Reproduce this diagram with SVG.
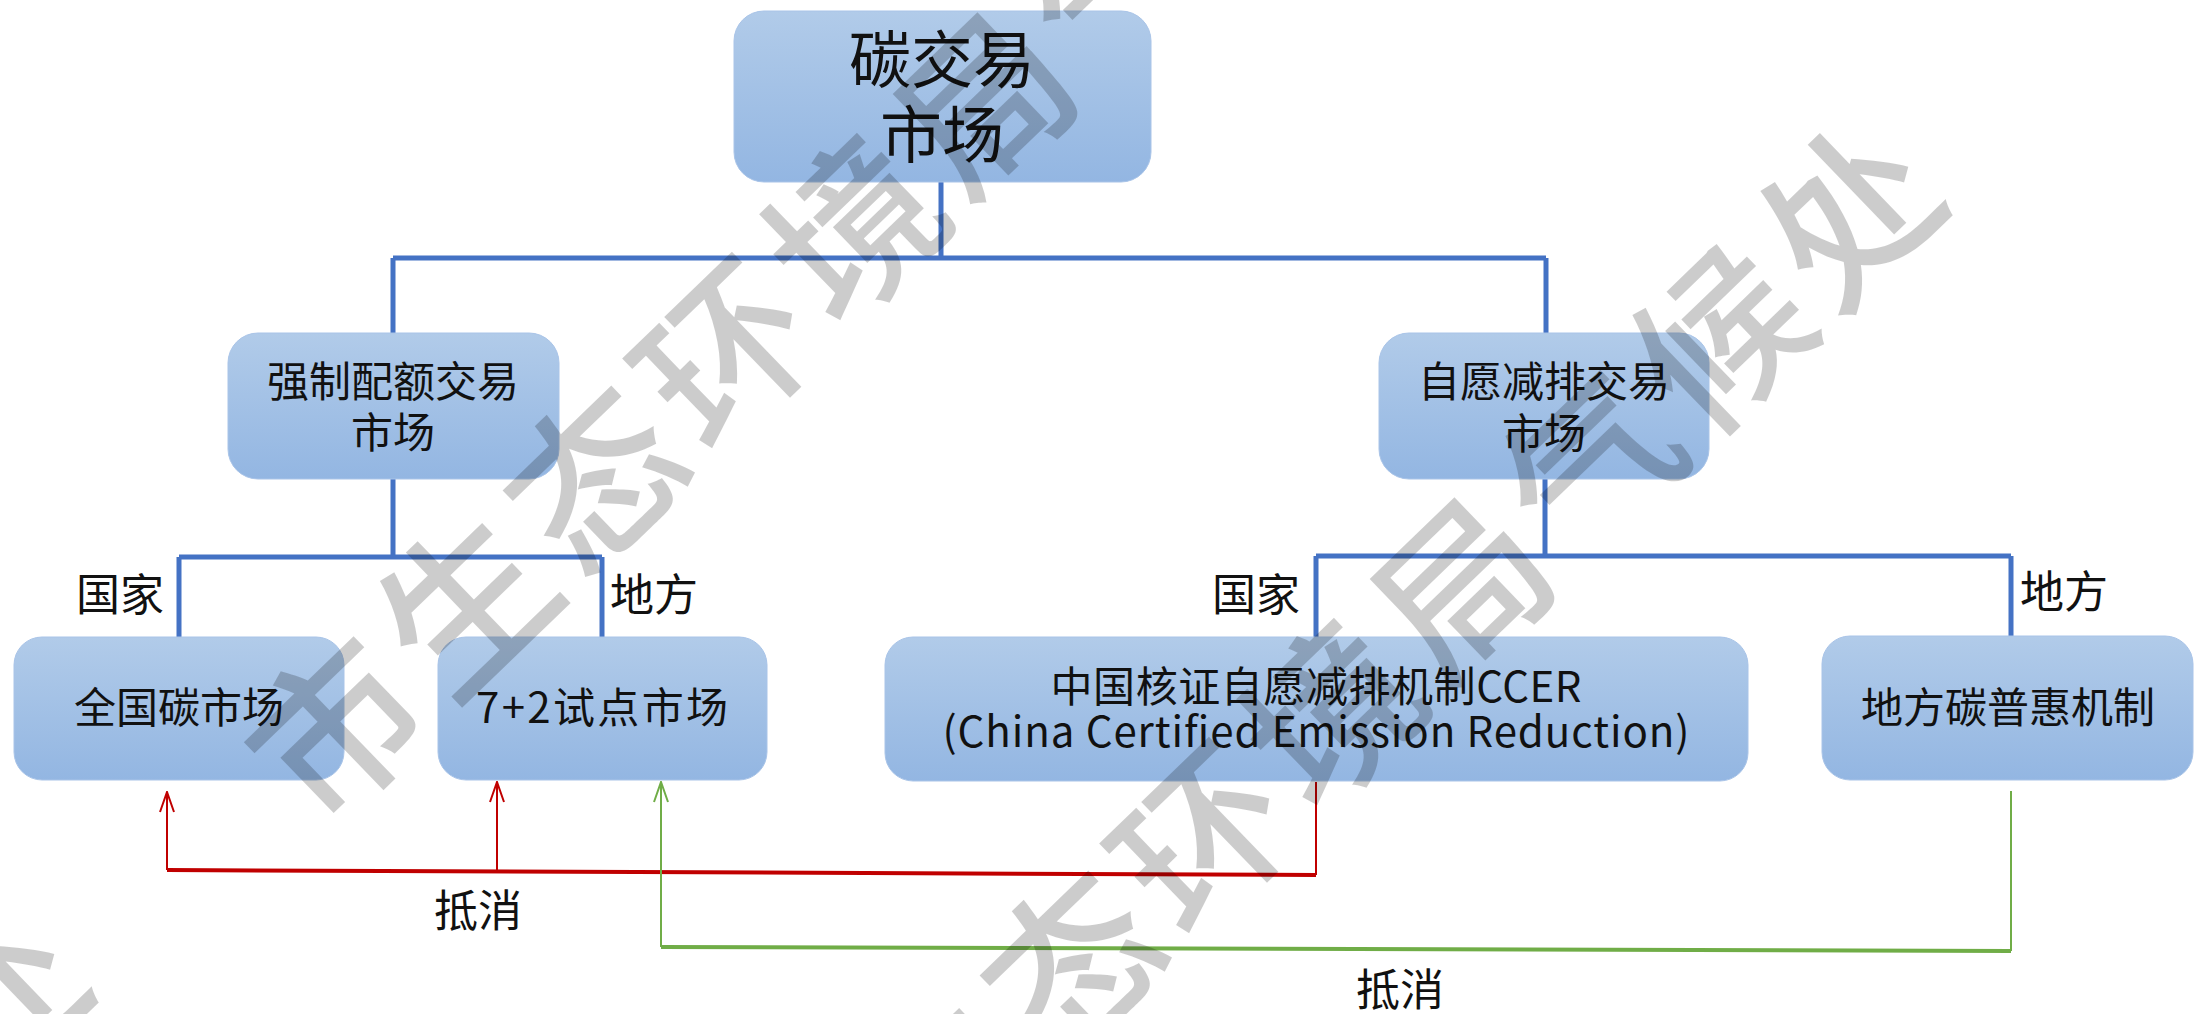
<svg xmlns="http://www.w3.org/2000/svg" width="2196" height="1014" viewBox="0 0 2196 1014">
<defs>
<linearGradient id="nodeGrad" x1="0" y1="0" x2="0" y2="1">
<stop offset="0" stop-color="#B1CBE9"/>
<stop offset="1" stop-color="#93B6E2"/>
</linearGradient>
<marker id="arrRed" markerUnits="userSpaceOnUse" markerWidth="22" markerHeight="22" viewBox="0 0 22 22" refX="21" refY="11" orient="auto">
<path d="M1,4 L21,11 L1,18" fill="none" stroke="#C00000" stroke-width="2"/>
</marker>
<marker id="arrGreen" markerUnits="userSpaceOnUse" markerWidth="22" markerHeight="22" viewBox="0 0 22 22" refX="21" refY="11" orient="auto">
<path d="M1,4 L21,11 L1,18" fill="none" stroke="#70AD47" stroke-width="2"/>
</marker>
</defs>
<style>
.node{fill:url(#nodeGrad);stroke:#A9C4E8;stroke-width:1}
.t{font-family:"Noto Sans CJK SC","Noto Sans",sans-serif;fill:#111;text-anchor:middle}
.lbl{font-family:"Noto Sans CJK SC","Noto Sans",sans-serif;fill:#111;font-size:44px}
.tree{fill:none;stroke:#4472C4;stroke-width:5}
.red{fill:none;stroke:#C00000;stroke-width:2}
.redh{fill:none;stroke:#C00000;stroke-width:4}
.green{fill:none;stroke:#70AD47;stroke-width:2}
.greenh{fill:none;stroke:#70AD47;stroke-width:4}
.wm{font-family:"Noto Sans CJK SC",sans-serif;font-size:168px;font-weight:500;letter-spacing:12px;fill:#000;fill-opacity:0.2}
</style>
<rect x="0" y="0" width="2196" height="1014" fill="#FFFFFF"/>
<g id="connectors">
<path class="tree" d="M941,182 V258 M393,258 H1546 M393,258 V333 M1546,258 V333"/>
<path class="tree" d="M393,479 V557 M179,557 H602 M179,557 V637 M602,557 V637"/>
<path class="tree" d="M1545,479 V556 M1316,556 H2011 M1316,556 V637 M2011,556 V637"/>
<path class="redh" d="M167,870 L1316,875"/>
<path class="red" d="M1316,782 V875"/>
<path class="red" d="M167,870 V792" marker-end="url(#arrRed)"/>
<path class="red" d="M497,872 V782" marker-end="url(#arrRed)"/>
<path class="greenh" d="M661,947 L2011,951"/>
<path class="green" d="M2011,791 V951"/>
<path class="green" d="M661,947 V782" marker-end="url(#arrGreen)"/>
</g>
<g id="node-root">
<rect class="node" x="734" y="11" width="417" height="171" rx="30"/>
<text class="t" x="942" y="83" font-size="62">碳交易</text>
<text class="t" x="942" y="158" font-size="62">市场</text>
</g>
<g id="node-mandatory">
<rect class="node" x="228" y="333" width="331" height="146" rx="30"/>
<text class="t" x="393" y="397" font-size="42">强制配额交易</text>
<text class="t" x="393" y="448" font-size="42">市场</text>
</g>
<g id="node-voluntary">
<rect class="node" x="1379" y="333" width="330" height="146" rx="30"/>
<text class="t" x="1544" y="397" font-size="42">自愿减排交易</text>
<text class="t" x="1544" y="449" font-size="42">市场</text>
</g>
<g id="node-national">
<rect class="node" x="14" y="637" width="330" height="143" rx="28"/>
<text class="t" x="179" y="723" font-size="42">全国碳市场</text>
</g>
<g id="node-pilot">
<rect class="node" x="438" y="637" width="329" height="143" rx="28"/>
<text class="t" x="602" y="723" font-size="42" textLength="252" lengthAdjust="spacing">7+2试点市场</text>
</g>
<g id="node-ccer">
<rect class="node" x="885" y="637" width="863" height="144" rx="28"/>
<text class="t" x="1316" y="702" font-size="42" textLength="531" lengthAdjust="spacing">中国核证自愿减排机制CCER</text>
<text class="t" x="1316" y="747" font-size="42" textLength="747" lengthAdjust="spacing">(China Certified Emission Reduction)</text>
</g>
<g id="node-local">
<rect class="node" x="1822" y="636" width="371" height="144" rx="28"/>
<text class="t" x="2008" y="723" font-size="42">地方碳普惠机制</text>
</g>
<g id="labels">
<text class="lbl" x="76" y="611">国家</text>
<text class="lbl" x="610" y="611">地方</text>
<text class="lbl" x="1212" y="611">国家</text>
<text class="lbl" x="2020" y="608">地方</text>
<text class="lbl" x="434" y="927" font-size="46">抵消</text>
<text class="lbl" x="1356" y="1006" font-size="46">抵消</text>
</g>
<g id="watermark">
<text class="wm" transform="translate(275.6,786.4) rotate(-44)" x="0" y="64">市生态环境局气候处</text>
<text class="wm" transform="translate(752.6,1271.4) rotate(-44)" x="0" y="64">市生态环境局气候处</text>
<text class="wm" transform="translate(-65.4,1058.4) rotate(-44)" x="0" y="64">处</text>
</g>
</svg>
